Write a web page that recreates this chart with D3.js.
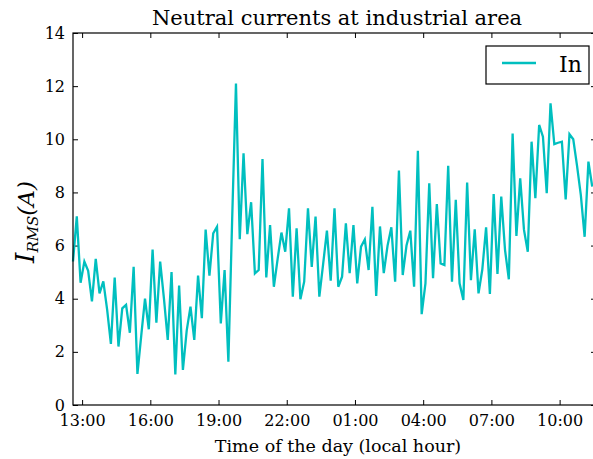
<!DOCTYPE html>
<html>
<head>
<meta charset="utf-8">
<script src="https://cdn.jsdelivr.net/npm/d3@7"></script>
<style>
  body { margin: 0; background: #fff; overflow: hidden; }
  text { font-family: "DejaVu Serif", serif; fill: #000; }
</style>
</head>
<body>
<script>
// neutral current, one sample every 10 minutes starting 12:36
const startTime = new Date(2016, 0, 1, 12, 36);
const stepMinutes = 10;
const nSteps = 138; // x limit = last sample slot

const currentIn = [
  5.4, 7.1, 4.6, 5.4, 5.05, 3.9, 5.5, 4.2, 4.65, 3.6,
  2.3, 4.8, 2.2, 3.64, 3.77, 2.72, 5.2, 1.17, 2.6, 4.0,
  2.85, 5.85, 3.1, 5.4, 4.0, 2.45, 5.0, 1.15, 4.5, 1.32,
  2.8, 3.7, 2.45, 4.87, 3.27, 6.6, 4.87, 6.46, 6.71, 3.07,
  5.08, 1.63, 7.0, 12.1, 6.24, 9.47, 6.43, 7.63, 4.95, 5.08,
  9.26, 4.8, 6.77, 4.45, 5.5, 6.49, 5.77, 7.4, 4.08, 6.65,
  3.98, 4.64, 7.4, 5.2, 7.09, 4.08, 5.3, 6.56, 4.68, 7.4,
  4.45, 4.83, 6.84, 4.96, 6.77, 4.58, 5.96, 6.23, 5.08, 7.46,
  4.1, 6.72, 4.96, 6.0, 6.69, 4.64, 8.82, 4.89, 6.0, 6.56,
  4.45, 9.57, 3.42, 4.58, 8.34, 4.77, 7.56, 5.33, 5.27, 9.0,
  4.64, 7.72, 4.58, 3.95, 8.37, 4.7, 6.61, 4.2, 5.1, 6.69,
  4.18, 7.94, 4.93, 7.84, 5.83, 4.73, 10.22, 6.36, 8.53, 6.59,
  5.77, 9.91, 7.78, 10.54, 10.1, 7.97, 11.35, 9.82, 9.87, 9.91,
  7.74, 10.19, 10.0, 9.0, 7.9, 6.33, 9.16, 8.22
];

const yTicks = [0, 2, 4, 6, 8, 10, 12, 14];
const xTickHours = [13, 16, 19, 22, 25, 28, 31, 34]; // 01:00 etc. are next day
const titleText = "Neutral currents at industrial area";
const xLabelText = "Time of the day (local hour)";
const legendLabel = "In";

const width = 593, height = 459;
const margin = {top: 33, right: -3, bottom: 54, left: 73};
const lineColor = "#00bfbf";

const data = currentIn.map((v, i) => ({
  t: d3.timeMinute.offset(startTime, i * stepMinutes),
  v: v
}));

const svg = d3.select("body").append("svg")
  .attr("width", width)
  .attr("height", height);

const x = d3.scaleTime()
  .domain([startTime, d3.timeMinute.offset(startTime, nSteps * stepMinutes)])
  .range([margin.left, width - margin.right]);

const y = d3.scaleLinear()
  .domain([0, 14])
  .range([height - margin.bottom, margin.top]);

const xTicks = xTickHours.map(h => new Date(2016, 0, 1, h, 0));
const fmt = d3.timeFormat("%H:%M");

// axes, ticks pointing inward like the classic matplotlib style
svg.append("g")
  .attr("transform", "translate(0," + y(0) + ")")
  .call(d3.axisBottom(x).tickValues(xTicks).tickFormat(fmt).tickSizeInner(-5).tickSizeOuter(0).tickPadding(10))
  .call(g => g.select(".domain").remove())
  .call(g => g.selectAll("text").style("font-size", "16px").attr("dy", "0.71em"));

svg.append("g")
  .attr("transform", "translate(0," + y(14) + ")")
  .call(d3.axisTop(x).tickValues(xTicks).tickFormat("").tickSizeInner(-5).tickSizeOuter(0))
  .call(g => g.select(".domain").remove());

svg.append("g")
  .attr("transform", "translate(" + x.range()[0] + ",0)")
  .call(d3.axisLeft(y).tickValues(yTicks).tickSizeInner(-5).tickSizeOuter(0).tickPadding(8))
  .call(g => g.select(".domain").remove())
  .call(g => g.selectAll("text").style("font-size", "16px"));

svg.append("g")
  .attr("transform", "translate(" + x.range()[1] + ",0)")
  .call(d3.axisRight(y).tickValues(yTicks).tickFormat("").tickSizeInner(-5).tickSizeOuter(0))
  .call(g => g.select(".domain").remove());

svg.selectAll(".tick line").attr("stroke", "#000");

// the line
const line = d3.line()
  .x(d => x(d.t))
  .y(d => y(d.v));

svg.append("path")
  .datum(data)
  .attr("fill", "none")
  .attr("stroke", lineColor)
  .attr("stroke-width", 2.3)
  .attr("stroke-linejoin", "miter")
  .attr("d", line);

// frame
svg.append("rect")
  .attr("x", x.range()[0])
  .attr("y", y(14))
  .attr("width", x.range()[1] - x.range()[0])
  .attr("height", y(0) - y(14))
  .attr("fill", "none")
  .attr("stroke", "#000")
  .attr("stroke-width", 1.2);

// title and labels
svg.append("text")
  .attr("x", 337)
  .attr("y", 25)
  .attr("text-anchor", "middle")
  .style("font-size", "21px")
  .text(titleText);

svg.append("text")
  .attr("x", 338)
  .attr("y", 452)
  .attr("text-anchor", "middle")
  .style("font-size", "17.5px")
  .text(xLabelText);

const ylab = svg.append("text")
  .attr("transform", "translate(34,222) rotate(-90)")
  .attr("text-anchor", "middle")
  .style("font-style", "italic");
ylab.append("tspan").style("font-size", "26px").text("I");
ylab.append("tspan").style("font-size", "15px").attr("dy", 4).text("RMS");
ylab.append("tspan").style("font-size", "23px").attr("dy", -4).text("(A)");

// legend
const lg = svg.append("g")
  .attr("transform", "translate(" + (x.range()[1] - 110) + "," + (y(14) + 13) + ")");
lg.append("rect")
  .attr("width", 103)
  .attr("height", 38)
  .attr("fill", "#fff")
  .attr("stroke", "#000")
  .attr("stroke-width", 1.2);
lg.append("line")
  .attr("x1", 16).attr("x2", 50)
  .attr("y1", 17).attr("y2", 17)
  .attr("stroke", lineColor)
  .attr("stroke-width", 2.3);
lg.append("text")
  .attr("x", 73).attr("y", 26)
  .style("font-size", "22px")
  .text(legendLabel);
</script>
</body>
</html>
